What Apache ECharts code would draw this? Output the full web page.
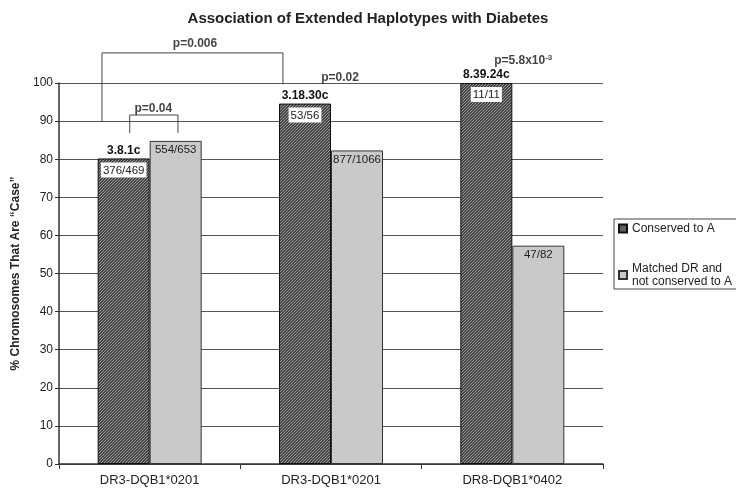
<!DOCTYPE html>
<html>
<head>
<meta charset="utf-8">
<script src="https://cdn.jsdelivr.net/npm/echarts@6/dist/echarts.min.js"></script>
<style>html,body{margin:0;padding:0;background:#fff;}#c{width:736px;height:491px;}</style>
</head>
<body>
<div id="c"></div>
<script>
var categories = ['DR3-DQB1*0201', 'DR3-DQB1*0201', 'DR8-DQB1*0402'];
var conserved = [80.2, 94.6, 100];
var matched = [84.8, 82.3, 57.3];
var conservedNames = ['3.8.1c', '3.18.30c', '8.39.24c'];
var conservedCounts = ['376/469', '53/56', '11/11'];
var matchedCounts = ['554/653', '877/1066', '47/82'];
var yTicks = [0, 10, 20, 30, 40, 50, 60, 70, 80, 90, 100];
// annotation brackets in (category-unit x, percent y)
var bracket004 = [[0.39, 86.9], [0.39, 91.6], [0.656, 91.6], [0.656, 86.9]];
var bracket0006 = [[0.237, 89.8], [0.237, 107.9], [1.235, 107.9], [1.235, 99.7]];
var pLabels = [
  {value: [0.52, 93.2], text: 'p=0.04'},
  {value: [0.75, 110.2], text: 'p=0.006'},
  {value: [1.55, 101.5], text: 'p=0.02'},
  {value: [2.56, 105.9], text: '{t|p=5.8x10}{s|-3}'}
];

var FONT = 'Liberation Sans, Arial, Helvetica, sans-serif';

// hatch pattern
var pc = document.createElement('canvas');
pc.width = 3; pc.height = 3;
var g = pc.getContext('2d');
g.fillStyle = '#454545'; g.fillRect(0, 0, 3, 3);
g.fillStyle = '#9a9a9a';
for (var i = 0; i < 3; i++) { g.fillRect(i, 2 - i, 1, 1); }

var chart = echarts.init(document.getElementById('c'), null, {renderer: 'canvas'});
chart.setOption({
  animation: false,
  title: {
    text: 'Association of Extended Haplotypes with Diabetes',
    left: 'center', top: 6,
    textStyle: {fontFamily: FONT, fontSize: 15, fontWeight: 'bold', color: '#222'}
  },
  legend: {
    orient: 'vertical', left: 614, top: 219,
    padding: [3, 6, 1, 4],
    itemGap: 27,
    itemWidth: 8, itemHeight: 8,
    borderColor: '#444', borderWidth: 1,
    icon: 'rect',
    textStyle: {fontFamily: FONT, fontSize: 12, color: '#222', lineHeight: 13},
    data: ['Conserved to A', 'Matched DR and\nnot conserved to A']
  },
  grid: {left: 59, right: 133, top: 83, bottom: 27},
  xAxis: [{
    type: 'category', data: categories,
    axisLine: {lineStyle: {color: '#333', width: 1.5}},
    axisTick: {show: true, length: 5, lineStyle: {color: '#333'}},
    axisLabel: {fontFamily: FONT, fontSize: 13, color: '#222', margin: 10}
  }, {
    type: 'value', min: 0, max: 3, show: false
  }],
  yAxis: {
    type: 'value', min: 0, max: 100, interval: 10,
    name: '% Chromosomes That Are \u201cCase\u201d',
    nameLocation: 'middle', nameGap: 33,
    nameTextStyle: {fontFamily: FONT, fontSize: 12, fontWeight: 'bold', color: '#222'},
    axisLine: {show: true, lineStyle: {color: '#333', width: 1.5}},
    axisTick: {show: true, length: 4, lineStyle: {color: '#333'}},
    axisLabel: {fontFamily: FONT, fontSize: 12, color: '#222', margin: 6,
      formatter: function (v) { return yTicks.indexOf(v) >= 0 ? String(v) : ''; }},
    splitLine: {lineStyle: {color: '#555', width: 1}}
  },
  series: [{
    name: 'Conserved to A', type: 'bar', barWidth: 52, barGap: '0%',
    itemStyle: {color: {image: pc, repeat: 'repeat'}, borderColor: '#111', borderWidth: 1},
    data: conserved.map(function (v, i) {
      return {value: v, label: {formatter: '{n|' + conservedNames[i] + '}\n{b|' + conservedCounts[i] + '}'}};
    }),
    label: {
      show: true, position: 'insideTop', distance: 0, offset: [0, -14],
      rich: {
        n: {fontFamily: FONT, fontSize: 12, fontWeight: 'bold', color: '#111', lineHeight: 19, verticalAlign: 'top'},
        b: {fontFamily: FONT, fontSize: 11.5, color: '#222', backgroundColor: '#fff', padding: [2, 2, 1, 2], lineHeight: 13}
      }
    }
  }, {
    name: 'Matched DR and\nnot conserved to A', type: 'bar', barWidth: 52,
    itemStyle: {color: '#c9c9c9', borderColor: '#333', borderWidth: 1},
    data: matched,
    label: {
      show: true, position: 'insideTop', distance: 3,
      fontFamily: FONT, fontSize: 11.5, color: '#222',
      formatter: function (p) { return matchedCounts[p.dataIndex]; }
    }
  }, {
    type: 'line', xAxisIndex: 1, data: bracket004, symbol: 'none', clip: false, silent: true,
    lineStyle: {color: '#444', width: 1}
  }, {
    type: 'line', xAxisIndex: 1, data: bracket0006, symbol: 'none', clip: false, silent: true,
    lineStyle: {color: '#444', width: 1}
  }, {
    type: 'scatter', xAxisIndex: 1, symbolSize: 0, clip: false, silent: true,
    data: pLabels.map(function (d) { return {value: d.value, label: {formatter: d.text}}; }),
    label: {
      show: true, position: 'inside',
      fontFamily: FONT, fontSize: 12, fontWeight: 'bold', color: '#111',
      rich: {
        t: {fontFamily: FONT, fontSize: 12, fontWeight: 'bold', color: '#111'},
        s: {fontFamily: FONT, fontSize: 8, fontWeight: 'bold', color: '#111', verticalAlign: 'top', padding: [0, 0, 6, 0]}
      }
    }
  }]
});
</script>
</body>
</html>
